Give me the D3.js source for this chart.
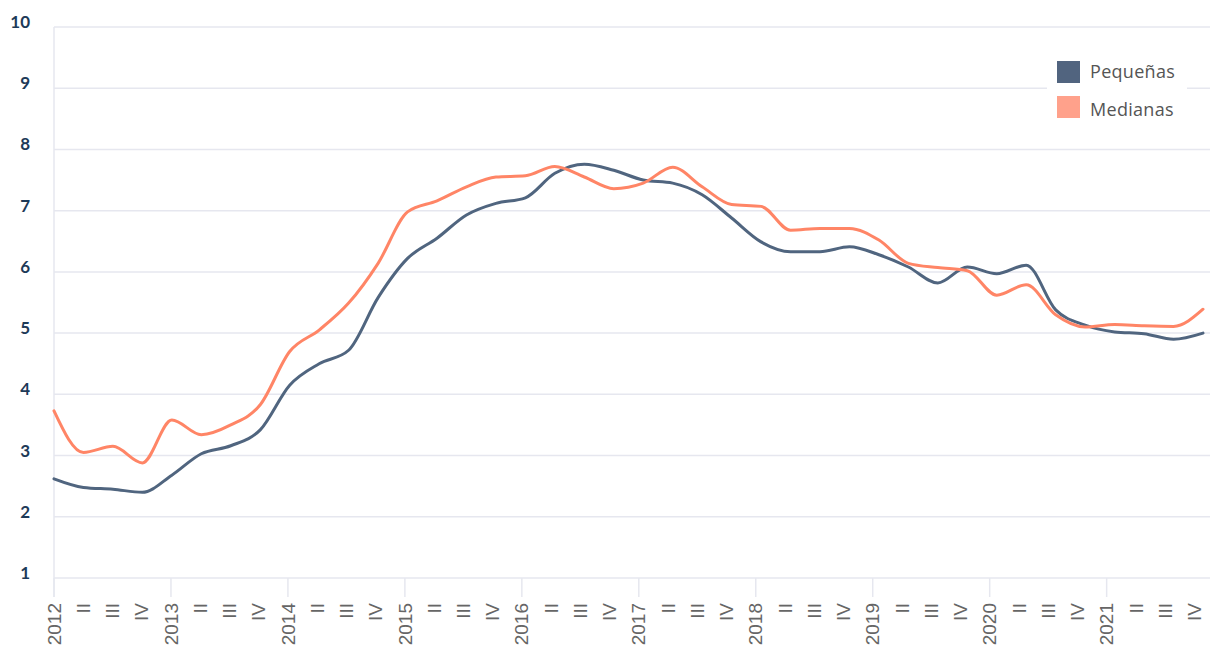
<!DOCTYPE html>
<html>
<head>
<meta charset="utf-8">
<script src="https://cdn.jsdelivr.net/npm/d3@7"></script>
<style>
  html, body { margin: 0; padding: 0; background: #ffffff; }
  svg { display: block; }
</style>
</head>
<body>
<svg id="chart" width="1216" height="648"></svg>
<script>
// ---- data ----
const years = ["2012", "2013", "2014", "2015", "2016", "2017", "2018", "2019", "2020", "2021"];
const quarterLabels = ["", "II", "III", "IV"];
const yTicks = [1, 2, 3, 4, 5, 6, 7, 8, 9, 10];
const seriesNames = ["Pequeñas", "Medianas"];
const pequenas = [
  2.62, 2.48, 2.45, 2.40, 2.68, 3.03, 3.16, 3.42,
  4.15, 4.50, 4.72, 5.58, 6.22, 6.55, 6.93, 7.12,
  7.21, 7.61, 7.76, 7.66, 7.50, 7.45, 7.26, 6.88,
  6.49, 6.33, 6.33, 6.41, 6.28, 6.08, 5.82, 6.08,
  5.97, 6.11, 5.38, 5.13, 5.02, 4.99, 4.90, 5.00
];
const medianas = [
  3.73, 3.05, 3.15, 2.88, 3.58, 3.34, 3.50, 3.83,
  4.70, 5.05, 5.49, 6.14, 6.98, 7.16, 7.39, 7.55,
  7.57, 7.72, 7.55, 7.36, 7.45, 7.71, 7.39, 7.10,
  7.07, 6.68, 6.71, 6.71, 6.52, 6.14, 6.07, 6.02,
  5.62, 5.79, 5.30, 5.10, 5.14, 5.12, 5.11, 5.39
];
const lineColors = ["#50657f", "#ff8566"];
const legendColors = ["#51647f", "#ffa18b"];

// ---- build ----
const xLabels = [];
years.forEach(y => quarterLabels.forEach(q => xLabels.push(q === "" ? y : q)));
const idx = d3.range(xLabels.length);

const svg = d3.select("#chart");
const gridColor = "#e6e7ef";

const x = d3.scalePoint().domain(idx).range([54, 54 + 39 * 29.24]);
const xl = d3.scaleLinear().domain([0, idx.length - 1]).range([54, 1203]);
const y = d3.scaleLinear().domain([1, 10]).range([578, 27]);

// horizontal grid
svg.append("g").selectAll("line").data(yTicks).join("line")
  .attr("x1", 54).attr("x2", 1210)
  .attr("y1", d => y(d)).attr("y2", d => y(d))
  .attr("stroke", gridColor).attr("stroke-width", 1.5);

// left axis line
svg.append("line")
  .attr("x1", 54).attr("x2", 54).attr("y1", y(10)).attr("y2", 597)
  .attr("stroke", gridColor).attr("stroke-width", 1.5);

// year ticks
svg.append("g").selectAll("line").data(idx.filter(i => i % 4 === 0)).join("line")
  .attr("x1", d => x(d)).attr("x2", d => x(d))
  .attr("y1", y(1)).attr("y2", 597)
  .attr("stroke", gridColor).attr("stroke-width", 1.5);

// y labels
svg.append("g").selectAll("text").data(yTicks).join("text")
  .attr("x", 30).attr("y", d => y(d) - 5)
  .attr("dy", "0.35em")
  .attr("text-anchor", "end")
  .attr("font-family", "Lato, 'Open Sans', sans-serif")
  .attr("font-weight", 700)
  .attr("font-size", 17)
  .attr("fill", "#1d3a58")
  .text(d => d);

// x labels
svg.append("g").selectAll("text").data(idx).join("text")
  .attr("transform", d => `translate(${x(d)},603) rotate(-90)`)
  .attr("dy", "0.35em")
  .attr("text-anchor", "end")
  .attr("font-family", "'Liberation Sans', Arial, sans-serif")
  .attr("font-size", 19)
  .attr("fill", "#666666")
  .text(d => xLabels[d]);

// lines
const line = d3.line()
  .x((d, i) => xl(i))
  .y(d => y(d))
  .curve(d3.curveMonotoneX);

[pequenas, medianas].forEach((s, k) => {
  svg.append("path")
    .datum(s)
    .attr("d", line)
    .attr("fill", "none")
    .attr("stroke", lineColors[k])
    .attr("stroke-width", 3)
    .attr("stroke-linejoin", "round")
    .attr("stroke-linecap", "round");
});

// legend
const lg = svg.append("g");
lg.append("rect").attr("x", 1047).attr("y", 53).attr("width", 140).attr("height", 74).attr("fill", "#ffffff");
seriesNames.forEach((n, k) => {
  lg.append("rect")
    .attr("x", 1057).attr("y", 61 + k * 35)
    .attr("width", 23).attr("height", 22)
    .attr("fill", legendColors[k]);
  lg.append("text")
    .attr("x", 1090).attr("y", 78 + k * 38)
    .attr("font-family", "'Open Sans', sans-serif")
    .attr("font-size", 18)
    .attr("letter-spacing", 0.3)
    .attr("fill", "#555555")
    .text(n);
});
</script>
</body>
</html>
